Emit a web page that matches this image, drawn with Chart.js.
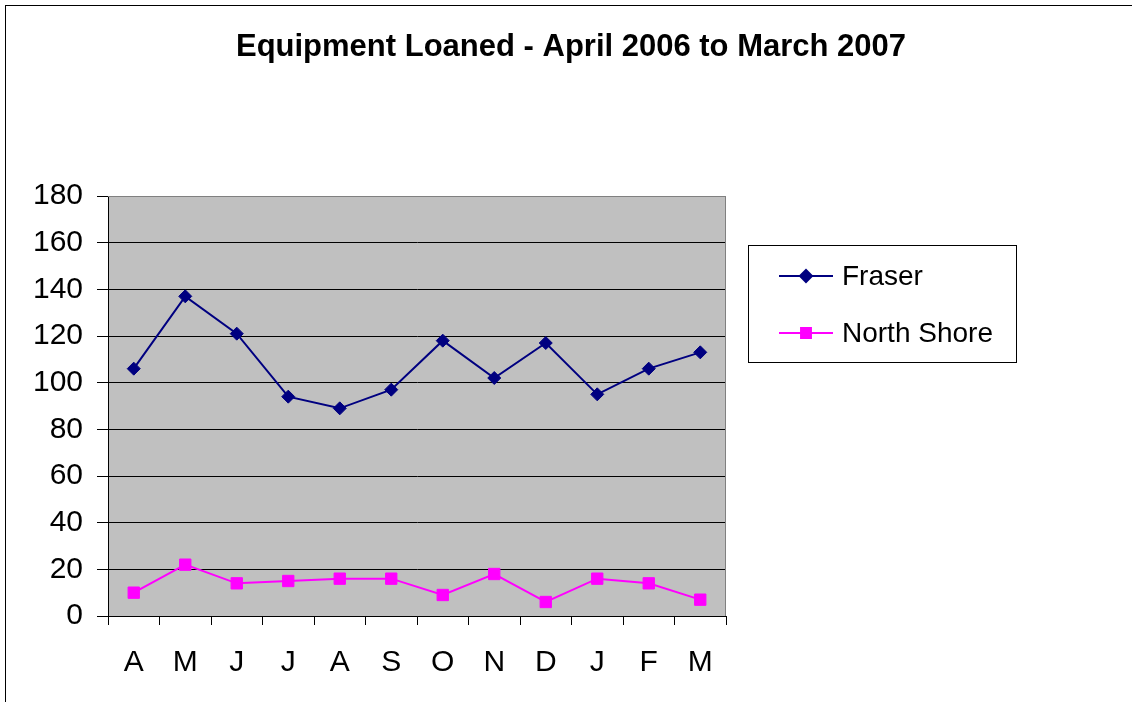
<!DOCTYPE html>
<html>
<head>
<meta charset="utf-8">
<title>Equipment Loaned</title>
<script src="https://cdn.jsdelivr.net/npm/chart.js@4/dist/chart.umd.min.js"></script>
<style>
  html, body { margin: 0; padding: 0; background: #fff; overflow: hidden; }
  #frame { position: absolute; left: 5px; top: 5px; width: 1400px; height: 900px;
           border-left: 1px solid #000; border-top: 1px solid #000; }
  #chart { position: absolute; left: 0; top: 0; }
</style>
</head>
<body>
<div id="frame"></div>
<canvas id="chart" width="1132" height="702"></canvas>
<script>
// months April 2006 .. March 2007
const months = ['A', 'M', 'J', 'J', 'A', 'S', 'O', 'N', 'D', 'J', 'F', 'M'];
const fraser = [106, 137, 121, 94, 89, 97, 118, 102, 117, 95, 106, 113];
const northShore = [10, 22, 14, 15, 16, 16, 9, 18, 6, 16, 14, 7];
const yTicks = [0, 20, 40, 60, 80, 100, 120, 140, 160, 180];
const chartTitle = 'Equipment Loaned - April 2006 to March 2007';

const FONT = 'Arial, "Liberation Sans", sans-serif';

// grey plot background, grey top/right frame, title and boxed legend (excel look)
const excelLook = {
  id: 'excelLook',
  beforeDraw(chart) {
    const a = chart.chartArea, ctx = chart.ctx;
    ctx.save();
    ctx.fillStyle = '#c0c0c0';
    ctx.fillRect(a.left, a.top, a.right - a.left, a.bottom - a.top);
    ctx.restore();
  },
  afterDatasetsDraw(chart) {
    const a = chart.chartArea, ctx = chart.ctx;
    ctx.save();
    ctx.strokeStyle = '#808080';
    ctx.lineWidth = 1;
    ctx.beginPath();
    ctx.moveTo(a.left, a.top + 0.5);
    ctx.lineTo(a.right - 0.5, a.top + 0.5);
    ctx.lineTo(a.right - 0.5, a.bottom);
    ctx.stroke();
    ctx.restore();
  },
  afterDraw(chart) {
    const ctx = chart.ctx;
    ctx.save();
    // title
    ctx.fillStyle = '#000';
    ctx.font = 'bold 31px ' + FONT;
    ctx.textAlign = 'center';
    ctx.textBaseline = 'middle';
    ctx.fillText(chartTitle, 571, 47);

    // legend
    ctx.strokeStyle = '#000';
    ctx.lineWidth = 1;
    ctx.strokeRect(748.5, 245.5, 268, 117);
    const rows = [276, 333];
    ctx.font = '28px ' + FONT;
    ctx.textAlign = 'left';
    chart.data.datasets.forEach((ds, i) => {
      const y = rows[i];
      ctx.strokeStyle = ds.borderColor;
      ctx.lineWidth = 2;
      ctx.beginPath();
      ctx.moveTo(779, y);
      ctx.lineTo(833, y);
      ctx.stroke();
      Chart.helpers.drawPoint(ctx, {
        pointStyle: ds.pointStyle,
        radius: ds.legendRadius,
        borderWidth: 1
      }, 806, y);
      ctx.fillStyle = ds.backgroundColor;
      ctx.fill();
      ctx.fillStyle = '#000';
      ctx.fillText(ds.label, 842, y + 1);
    });
    ctx.restore();
  }
};

new Chart(document.getElementById('chart'), {
  type: 'line',
  data: {
    labels: months,
    datasets: [{
      label: 'Fraser',
      data: fraser,
      borderColor: '#000080',
      backgroundColor: '#000080',
      borderWidth: 2,
      pointStyle: 'rectRot',
      pointRadius: 6.5,
      legendRadius: 6,
      pointBorderWidth: 1,
      tension: 0
    }, {
      label: 'North Shore',
      data: northShore,
      borderColor: '#ff00ff',
      backgroundColor: '#ff00ff',
      borderWidth: 2,
      pointStyle: 'rect',
      pointRadius: 8,
      legendRadius: 7,
      pointBorderWidth: 1,
      tension: 0
    }]
  },
  plugins: [excelLook],
  options: {
    responsive: false,
    animation: false,
    layout: { padding: { top: 196, right: 406, bottom: 0, left: 0 } },
    plugins: {
      legend: { display: false },
      title: { display: false },
      tooltip: { enabled: false }
    },
    scales: {
      x: {
        offset: true,
        afterFit(scale) { scale.height = 86; },
        grid: {
          offset: true,
          drawOnChartArea: false,
          tickLength: 9,
          tickColor: '#000'
        },
        border: { color: '#000', width: 1 },
        ticks: {
          color: '#000',
          font: { family: FONT, size: 30 },
          padding: 20,
          maxRotation: 0,
          autoSkip: false
        }
      },
      y: {
        min: 0,
        max: 180,
        afterFit(scale) { scale.width = 108; },
        afterBuildTicks(scale) { scale.ticks = yTicks.map(v => ({ value: v })); },
        grid: {
          color: ctx => (ctx.tick && ctx.tick.value === 180) ? '#808080' : '#000',
          tickLength: 11,
          tickColor: '#000',
          lineWidth: 1
        },
        border: { color: '#000', width: 1 },
        ticks: {
          color: '#000',
          font: { family: FONT, size: 30 },
          padding: 14
        }
      }
    }
  }
});
</script>
</body>
</html>
